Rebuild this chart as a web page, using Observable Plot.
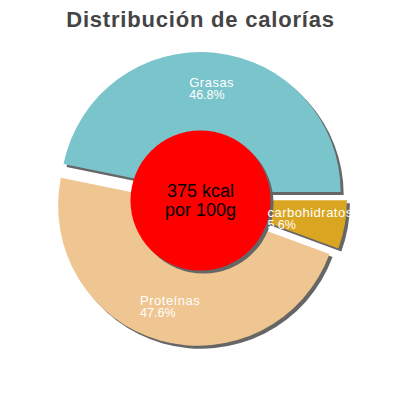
<!DOCTYPE html>
<html><head><meta charset="utf-8">
<script src="https://cdn.jsdelivr.net/npm/d3@7"></script>
<script src="https://cdn.jsdelivr.net/npm/@observablehq/plot@0.6"></script>
<style>
body{margin:0;background:#fff}
g[font-size="13"] text{letter-spacing:0.5px}
g[font-size="22"] text{letter-spacing:0.8px}
</style>
</head><body><div id="chart"></div>
<script>
const title = "Distribución de calorías";
const categories = ["Grasas", "Proteínas", "carbohidratos"];
const percents = [46.8, 47.6, 5.6];
const colors = ["#7ac4cc", "#efc591", "#daa520"];
const centerText = ["375 kcal", "por 100g"];

const R = 140, EXPLODE = 7, HOLE = 70, SHADOW = 3, LABEL_R = 0.745;
const FONT = "'Liberation Sans', Arial, sans-serif";

const rows = categories.map((c, i) => ({category: c, percent: percents[i], color: colors[i]}));
const arcs = d3.pie().value(d => d.percent).sort(null)
  .startAngle(Math.PI / 2).endAngle(Math.PI / 2 - 2 * Math.PI)(rows);

const ctx = document.createElement("canvas").getContext("2d");
ctx.font = `13px ${FONT}`;
const labels = arcs.map(a => {
  const m = (a.startAngle + a.endAngle) / 2;
  const dist = EXPLODE + LABEL_R * R;
  const w = ctx.measureText(a.data.category).width + 0.5 * a.data.category.length;
  return {
    name: a.data.category,
    pct: a.data.percent.toFixed(1) + "%",
    x: dist * Math.sin(m) - w / 2,
    y: -dist * Math.cos(m) - 1.5
  };
});

function slices(shadow) {
  return (index, scales) => {
    const g = d3.create("svg:g");
    const sx = scales.x, sy = scales.y;
    const k = sx(1) - sx(0);
    const arc = d3.arc().innerRadius(0).outerRadius(R * k);
    for (const a of arcs) {
      const m = (a.startAngle + a.endAngle) / 2;
      const px = sx(EXPLODE * Math.sin(m)) + (shadow ? SHADOW : 0);
      const py = sy(-EXPLODE * Math.cos(m)) + (shadow ? SHADOW : 0);
      g.append("path").attr("d", arc(a))
        .attr("transform", `translate(${px},${py})`)
        .attr("fill", shadow ? "#666" : a.data.color);
    }
    return g.node();
  };
}

const chart = Plot.plot({
  width: 400, height: 400, margin: 0,
  style: {fontFamily: FONT, background: "#fff"},
  x: {domain: [-200, 200], range: [0, 400], axis: null},
  y: {domain: [-199, 201], range: [0, 400], axis: null},
  marks: [
    slices(true),
    slices(false),
    Plot.dot([{x: 0, y: 1}], {x: "x", y: "y", r: HOLE, fill: "#666", dx: SHADOW, dy: SHADOW}),
    Plot.dot([{x: 0, y: 1}], {x: "x", y: "y", r: HOLE, fill: "#ff0000"}),
    Plot.text(labels, {x: "x", y: "y", text: "name", textAnchor: "start", lineAnchor: "bottom", fill: "white", fontSize: 13}),
    Plot.text(labels, {x: "x", y: d => d.y + 12, text: "pct", textAnchor: "start", lineAnchor: "bottom", fill: "white", fontSize: 12.5}),
    Plot.text([centerText.join("\n")], {x: 0, y: 1, text: d => d, fontSize: 18, lineHeight: 1.05, lineAnchor: "middle", fill: "black"}),
    Plot.text([title], {frameAnchor: "top", dy: 26, text: d => d, lineAnchor: "bottom", fontSize: 22, fontWeight: "bold", fill: "#444"})
  ]
});
document.getElementById("chart").append(chart);
</script>
</body></html>
